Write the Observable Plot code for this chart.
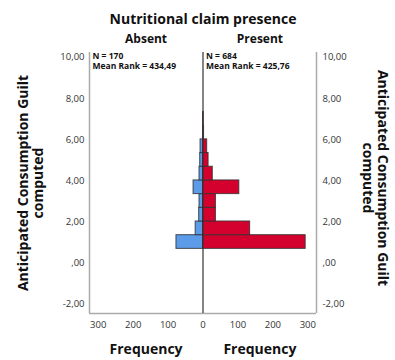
<!DOCTYPE html>
<html>
<head>
<meta charset="utf-8">
<script src="https://cdn.jsdelivr.net/npm/d3@7"></script>
<script src="https://cdn.jsdelivr.net/npm/@observablehq/plot@0.6"></script>
<style>
  body { margin: 0; background: #fff; }
  #chart svg { display: block; }
</style>
</head>
<body>
<div id="chart"></div>
<script>
// Bin lower edges (Anticipated Consumption Guilt computed), bin width
const binStarts = [0.70, 1.365, 2.03, 2.695, 3.36, 4.025, 4.69, 5.355, 6.02, 6.685];
const binWidth = 0.665;
// Frequencies per bin
const absentCounts  = [76, 21, 11, 10, 27, 10, 8, 7, 0, 0];
const presentCounts = [294, 135, 37, 37, 104, 28, 16, 12, 3, 2];
const groups = ["Absent", "Present"];
const groupStats = ["N = 170\nMean Rank = 434,49", "N = 684\nMean Rank = 425,76"];
const yTicks = [-2, 0, 2, 4, 6, 8, 10];
const xTicks = [-300, -200, -100, 0, 100, 200, 300];

const rows = [];
binStarts.forEach((b, i) => {
  rows.push({group: "Absent", y1: b, y2: b + binWidth, x1: 0, x2: -absentCounts[i], n: absentCounts[i]});
  rows.push({group: "Present", y1: b, y2: b + binWidth, x1: 0, x2: presentCounts[i], n: presentCounts[i]});
});
const bars = rows.filter(d => d.n > 0);

const fmtY = d => d === 0 ? ",00" : d.toFixed(2).replace(".", ",");
const font = "'Open Sans', 'DejaVu Sans', sans-serif";
const XMAX = 325, YMIN = -2.44, YMAX = 10.24;
const axisTitle = "Anticipated Consumption Guilt\ncomputed";

const chart = Plot.plot({
  width: 395,
  height: 360,
  marginLeft: 89,
  marginRight: 79,
  marginTop: 52,
  marginBottom: 47,
  style: {fontFamily: font, background: "#fff", overflow: "visible"},
  x: {domain: [-XMAX, XMAX]},
  y: {domain: [YMIN, YMAX]},
  color: {domain: groups, range: ["#5b9be8", "#d4002e"]},
  marks: [
    Plot.rect(bars, {x1: "x1", x2: "x2", y1: "y1", y2: "y2", fill: "group", stroke: "#333", strokeWidth: 1, strokeOpacity: 0.85}),
    Plot.ruleX([-XMAX, XMAX], {stroke: "#aaa", strokeWidth: 1.5}),
    Plot.ruleY([YMIN], {stroke: "#aaa", strokeWidth: 1.5}),
    Plot.ruleX([0], {stroke: "#333", strokeWidth: 1.2}),
    Plot.axisY(yTicks, {anchor: "left", tickSize: 0, tickPadding: 5, tickFormat: fmtY, fontSize: 9.5, fill: "#333", label: null}),
    Plot.axisY(yTicks, {anchor: "right", tickSize: 0, tickPadding: 6, tickFormat: fmtY, fontSize: 9.5, fill: "#333", label: null}),
    Plot.axisX(xTicks, {anchor: "bottom", tickSize: 0, tickPadding: 8, tickFormat: d => Math.abs(d), fontSize: 9.5, fill: "#333", label: null}),
    // stats text
    Plot.text([groupStats[0]], {x: -XMAX, y: YMAX, text: d => d, textAnchor: "start", lineAnchor: "top", dx: 3, fontSize: 8.5, fontWeight: "bold", fill: "#111", lineHeight: 1.15}),
    Plot.text([groupStats[1]], {x: 0, y: YMAX, text: d => d, textAnchor: "start", lineAnchor: "top", dx: 3, fontSize: 8.5, fontWeight: "bold", fill: "#111", lineHeight: 1.15}),
    // panel headers
    Plot.text([groups[0]], {x: -163, y: YMAX, text: d => d, dy: -13, fontSize: 12, fontWeight: "bold", fill: "#111"}),
    Plot.text([groups[1]], {x: 163, y: YMAX, text: d => d, dy: -13, fontSize: 12, fontWeight: "bold", fill: "#111"}),
    // title
    Plot.text(["Nutritional claim presence"], {frameAnchor: "top", dy: -38, text: d => d, fontSize: 14, fontWeight: "bold", fill: "#111"}),
    // frequency labels
    Plot.text(["Frequency"], {x: -163, y: YMIN, text: d => d, dy: 36, fontSize: 14, fontWeight: "bold", fill: "#111"}),
    Plot.text(["Frequency"], {x: 163, y: YMIN, text: d => d, dy: 36, fontSize: 14, fontWeight: "bold", fill: "#111"}),
    // y axis titles
    Plot.text([axisTitle], {frameAnchor: "left", textAnchor: "middle", lineAnchor: "middle", dx: -59, text: d => d, rotate: -90, fontSize: 14, fontWeight: "bold", fill: "#111", lineHeight: 1.05}),
    Plot.text([axisTitle], {frameAnchor: "right", textAnchor: "middle", lineAnchor: "middle", dx: 59, dy: -5, text: d => d, rotate: 90, fontSize: 14, fontWeight: "bold", fill: "#111", lineHeight: 1.05})
  ]
});
document.getElementById("chart").appendChild(chart);
</script>
</body>
</html>
